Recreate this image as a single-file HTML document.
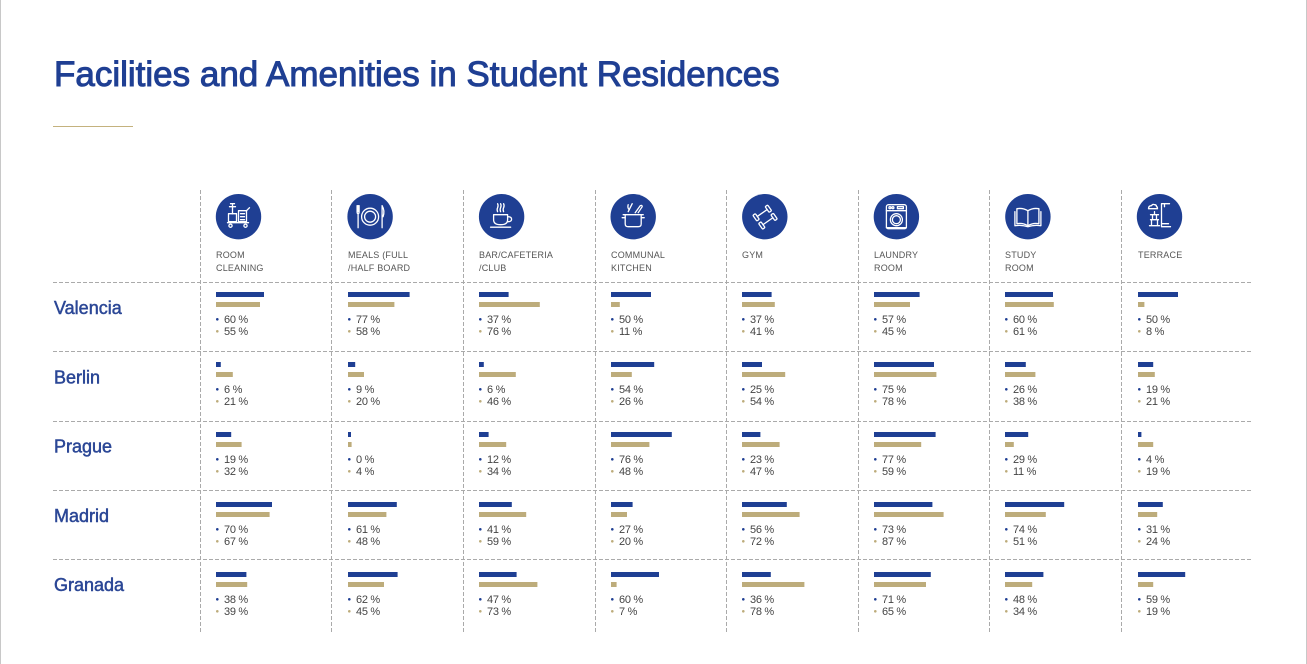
<!DOCTYPE html>
<html>
<head>
<meta charset="utf-8">
<style>
  html,body{margin:0;padding:0;background:#fff;}
  body{width:1307px;height:664px;overflow:hidden;}
  svg{display:block;}
  .t{font-family:"Liberation Sans",Arial,sans-serif;}
  .hd{font-family:"Liberation Sans",Arial,sans-serif;font-size:9px;fill:#555;letter-spacing:0.2px;}
  .v{font-family:"Liberation Sans",Arial,sans-serif;font-size:11px;fill:#444;letter-spacing:-0.3px;}
  .lbl{font-family:"Liberation Sans",Arial,sans-serif;font-size:18px;fill:#2b4796;stroke:#2b4796;stroke-width:0.5px;}
  .ic{fill:none;stroke:#fff;stroke-width:1.3;stroke-linecap:round;stroke-linejoin:round;}
</style>
</head>
<body>
<svg width="1307" height="664" viewBox="0 0 1307 664" xmlns="http://www.w3.org/2000/svg">
  <rect x="0" y="0" width="1307" height="664" fill="#fff"/>
  <line x1="0.5" y1="0" x2="0.5" y2="664" stroke="#c8c8c8" stroke-width="1"/>
  <line x1="1306.5" y1="0" x2="1306.5" y2="664" stroke="#c8c8c8" stroke-width="1"/>

  <!-- Title -->
  <text class="t" x="54" y="86" font-size="35" fill="#1f3f93" stroke="#1f3f93" stroke-width="1">Facilities and Amenities in Student Residences</text>
  <line x1="53" y1="126.5" x2="133" y2="126.5" stroke="#c4b27e" stroke-width="1"/>

  <!-- Grid -->
  <g stroke="#aaa" stroke-width="1" stroke-dasharray="4 2">
    <line x1="200.5" y1="190" x2="200.5" y2="632"/>
    <line x1="331.5" y1="190" x2="331.5" y2="632"/>
    <line x1="463.5" y1="190" x2="463.5" y2="632"/>
    <line x1="595.5" y1="190" x2="595.5" y2="632"/>
    <line x1="726.5" y1="190" x2="726.5" y2="632"/>
    <line x1="858.5" y1="190" x2="858.5" y2="632"/>
    <line x1="989.5" y1="190" x2="989.5" y2="632"/>
    <line x1="1121.5" y1="190" x2="1121.5" y2="632"/>
    <line x1="53" y1="282.5" x2="1252" y2="282.5"/>
    <line x1="53" y1="351.5" x2="1252" y2="351.5"/>
    <line x1="53" y1="421.5" x2="1252" y2="421.5"/>
    <line x1="53" y1="490.5" x2="1252" y2="490.5"/>
    <line x1="53" y1="559.5" x2="1252" y2="559.5"/>
  </g>

  <!-- Icons -->
  <g fill="#1f3f93">
    <circle cx="238.5" cy="216.7" r="22.7"/>
    <circle cx="370.1" cy="216.7" r="22.7"/>
    <circle cx="501.6" cy="216.7" r="22.7"/>
    <circle cx="633.2" cy="216.7" r="22.7"/>
    <circle cx="764.8" cy="216.7" r="22.7"/>
    <circle cx="896.4" cy="216.7" r="22.7"/>
    <circle cx="1027.9" cy="216.7" r="22.7"/>
    <circle cx="1159.5" cy="216.7" r="22.7"/>
  </g>
  <!-- room cleaning -->
  <g class="ic" transform="translate(238.5,216.7)">
    <line x1="-6" y1="-13" x2="-6" y2="-3"/>
    <path d="M-8,-13 L-4,-13 M-9,-10 L-3,-10"/>
    <rect x="-10" y="-3" width="8" height="8"/>
    <rect x="0" y="-6" width="8" height="11"/>
    <path d="M2,-3 H6 M2,0 H6 M2,3 H6"/>
    <path d="M8,-6 L11,-9"/>
    <line x1="-11" y1="6" x2="10" y2="6"/>
    <circle cx="-8" cy="9" r="1.6"/>
    <circle cx="7" cy="9" r="1.6"/>
  </g>
  <!-- meals -->
  <g class="ic" transform="translate(370.1,216.7)">
    <circle cx="0" cy="0" r="8.5"/>
    <circle cx="0" cy="0" r="5.5"/>
    <path d="M-13,-11 V-5 Q-13,-3 -12,-3 Q-11,-3 -11,-5 V-11 M-12,-11 V-5 M-12,-3 V11"/>
    <path d="M12,-11 Q15,-6 13,0 H12 V11 M12,-11 V0"/>
  </g>
  <!-- bar -->
  <g class="ic" transform="translate(501.6,216.7)">
    <path d="M-8,-2 H6 V3 Q6,8 -1,8 Q-8,8 -8,3 Z"/>
    <path d="M6,0 Q10,0 10,2.5 Q10,5 6,5"/>
    <line x1="-11" y1="10.5" x2="9" y2="10.5"/>
    <path d="M-4,-5 Q-5,-7 -4,-9 Q-3,-11 -4,-13 M-1,-5 Q-2,-7 -1,-9 Q0,-11 -1,-13 M2,-5 Q1,-7 2,-9 Q3,-11 2,-13"/>
  </g>
  <!-- kitchen -->
  <g class="ic" transform="translate(633.2,216.7)">
    <path d="M-8,-2 V7 Q-8,10 -5,10 H5 Q8,10 8,7 V-2"/>
    <line x1="-10" y1="-2" x2="10" y2="-2"/>
    <path d="M-8,1 H-11 M8,1 H11"/>
    <path d="M-5,-5 L-1,-13 M2,-4 L7,-11 Q9,-12 9,-10 L5,-4"/>
    <path d="M-4,-7 Q-6,-9 -5,-12"/>
  </g>
  <!-- gym -->
  <g class="ic" transform="translate(764.8,216.7) rotate(-35)">
    <rect x="-9" y="-8" width="3" height="7" rx="1"/>
    <rect x="6" y="-8" width="3" height="7" rx="1"/>
    <line x1="-6" y1="-4.5" x2="6" y2="-4.5"/>
    <rect x="-9" y="2" width="3" height="7" rx="1"/>
    <rect x="6" y="2" width="3" height="7" rx="1"/>
    <line x1="-6" y1="5.5" x2="6" y2="5.5"/>
  </g>
  <!-- laundry -->
  <g class="ic" transform="translate(896.4,216.7)">
    <rect x="-10" y="-12" width="20" height="24" rx="2"/>
    <line x1="-10" y1="-6" x2="10" y2="-6"/>
    <circle cx="-6.5" cy="-9" r="1"/>
    <circle cx="-3.5" cy="-9" r="1"/>
    <rect x="1" y="-10" width="6" height="2"/>
    <circle cx="0" cy="3" r="6"/>
    <circle cx="0" cy="3" r="4"/>
    <line x1="-10" y1="11" x2="10" y2="11"/>
  </g>
  <!-- study -->
  <g class="ic" transform="translate(1027.9,216.7)">
    <path d="M0,-6 Q-5,-9 -11,-8 V7 Q-5,6 0,9 Q5,6 11,7 V-8 Q5,-9 0,-6 Z"/>
    <line x1="0" y1="-6" x2="0" y2="9"/>
    <path d="M-13,-5 V9 Q-6,8 0,10 Q6,8 13,9 V-5"/>
  </g>
  <!-- terrace -->
  <g class="ic" transform="translate(1159.5,216.7)">
    <path d="M2,-13 H10 M2,-13 V10 M2,10 H11 M5,-13 V-10 M2,7 H9"/>
    <path d="M-11,-8 Q-11,-11 -8,-11 Q-7,-13 -5,-12 Q-3,-12 -3,-10 Q-2,-10 -2,-8 Z"/>
    <path d="M-9,-2 H-1 M-5,-5 V-2 M-7,-2 V3 H-3 V-2 M-9,3 H-1 M-8,3 V9 M-2,3 V9 M-10,9 H0"/>
  </g>

  <!-- Header labels -->
  <text class="hd" x="216" y="258">ROOM</text><text class="hd" x="216" y="271">CLEANING</text>
  <text class="hd" x="348" y="258">MEALS (FULL</text><text class="hd" x="348" y="271">/HALF BOARD</text>
  <text class="hd" x="479" y="258">BAR/CAFETERIA</text><text class="hd" x="479" y="271">/CLUB</text>
  <text class="hd" x="611" y="258">COMMUNAL</text><text class="hd" x="611" y="271">KITCHEN</text>
  <text class="hd" x="742" y="258">GYM</text>
  <text class="hd" x="874" y="258">LAUNDRY</text><text class="hd" x="874" y="271">ROOM</text>
  <text class="hd" x="1005" y="258">STUDY</text><text class="hd" x="1005" y="271">ROOM</text>
  <text class="hd" x="1138" y="258">TERRACE</text>

  <!-- Row labels -->
  <text class="lbl" x="54" y="314">Valencia</text>
  <text class="lbl" x="54" y="383.3">Berlin</text>
  <text class="lbl" x="54" y="452.5">Prague</text>
  <text class="lbl" x="54" y="521.8">Madrid</text>
  <text class="lbl" x="54" y="591">Granada</text>

  <!-- Valencia row: y=292 -->
  <g transform="translate(216,292)"><rect width="48" height="5" fill="#1f3f93"/><rect y="10" width="44" height="5" fill="#bdac7b"/><circle cx="1.3" cy="27.3" r="1.3" fill="#1f3f93"/><text class="v" x="8" y="31">60 %</text><circle cx="1.3" cy="39.3" r="1.3" fill="#bdac7b"/><text class="v" x="8" y="43">55 %</text></g>
  <g transform="translate(348,292)"><rect width="61.6" height="5" fill="#1f3f93"/><rect y="10" width="46.4" height="5" fill="#bdac7b"/><circle cx="1.3" cy="27.3" r="1.3" fill="#1f3f93"/><text class="v" x="8" y="31">77 %</text><circle cx="1.3" cy="39.3" r="1.3" fill="#bdac7b"/><text class="v" x="8" y="43">58 %</text></g>
  <g transform="translate(479,292)"><rect width="29.6" height="5" fill="#1f3f93"/><rect y="10" width="60.8" height="5" fill="#bdac7b"/><circle cx="1.3" cy="27.3" r="1.3" fill="#1f3f93"/><text class="v" x="8" y="31">37 %</text><circle cx="1.3" cy="39.3" r="1.3" fill="#bdac7b"/><text class="v" x="8" y="43">76 %</text></g>
  <g transform="translate(611,292)"><rect width="40" height="5" fill="#1f3f93"/><rect y="10" width="8.8" height="5" fill="#bdac7b"/><circle cx="1.3" cy="27.3" r="1.3" fill="#1f3f93"/><text class="v" x="8" y="31">50 %</text><circle cx="1.3" cy="39.3" r="1.3" fill="#bdac7b"/><text class="v" x="8" y="43">11 %</text></g>
  <g transform="translate(742,292)"><rect width="29.6" height="5" fill="#1f3f93"/><rect y="10" width="32.8" height="5" fill="#bdac7b"/><circle cx="1.3" cy="27.3" r="1.3" fill="#1f3f93"/><text class="v" x="8" y="31">37 %</text><circle cx="1.3" cy="39.3" r="1.3" fill="#bdac7b"/><text class="v" x="8" y="43">41 %</text></g>
  <g transform="translate(874,292)"><rect width="45.6" height="5" fill="#1f3f93"/><rect y="10" width="36" height="5" fill="#bdac7b"/><circle cx="1.3" cy="27.3" r="1.3" fill="#1f3f93"/><text class="v" x="8" y="31">57 %</text><circle cx="1.3" cy="39.3" r="1.3" fill="#bdac7b"/><text class="v" x="8" y="43">45 %</text></g>
  <g transform="translate(1005,292)"><rect width="48" height="5" fill="#1f3f93"/><rect y="10" width="48.8" height="5" fill="#bdac7b"/><circle cx="1.3" cy="27.3" r="1.3" fill="#1f3f93"/><text class="v" x="8" y="31">60 %</text><circle cx="1.3" cy="39.3" r="1.3" fill="#bdac7b"/><text class="v" x="8" y="43">61 %</text></g>
  <g transform="translate(1138,292)"><rect width="40" height="5" fill="#1f3f93"/><rect y="10" width="6.4" height="5" fill="#bdac7b"/><circle cx="1.3" cy="27.3" r="1.3" fill="#1f3f93"/><text class="v" x="8" y="31">50 %</text><circle cx="1.3" cy="39.3" r="1.3" fill="#bdac7b"/><text class="v" x="8" y="43">8 %</text></g>

  <!-- Berlin row: y=362 -->
  <g transform="translate(216,362)"><rect width="4.8" height="5" fill="#1f3f93"/><rect y="10" width="16.8" height="5" fill="#bdac7b"/><circle cx="1.3" cy="27.3" r="1.3" fill="#1f3f93"/><text class="v" x="8" y="31">6 %</text><circle cx="1.3" cy="39.3" r="1.3" fill="#bdac7b"/><text class="v" x="8" y="43">21 %</text></g>
  <g transform="translate(348,362)"><rect width="7.2" height="5" fill="#1f3f93"/><rect y="10" width="16" height="5" fill="#bdac7b"/><circle cx="1.3" cy="27.3" r="1.3" fill="#1f3f93"/><text class="v" x="8" y="31">9 %</text><circle cx="1.3" cy="39.3" r="1.3" fill="#bdac7b"/><text class="v" x="8" y="43">20 %</text></g>
  <g transform="translate(479,362)"><rect width="4.8" height="5" fill="#1f3f93"/><rect y="10" width="36.8" height="5" fill="#bdac7b"/><circle cx="1.3" cy="27.3" r="1.3" fill="#1f3f93"/><text class="v" x="8" y="31">6 %</text><circle cx="1.3" cy="39.3" r="1.3" fill="#bdac7b"/><text class="v" x="8" y="43">46 %</text></g>
  <g transform="translate(611,362)"><rect width="43.2" height="5" fill="#1f3f93"/><rect y="10" width="20.8" height="5" fill="#bdac7b"/><circle cx="1.3" cy="27.3" r="1.3" fill="#1f3f93"/><text class="v" x="8" y="31">54 %</text><circle cx="1.3" cy="39.3" r="1.3" fill="#bdac7b"/><text class="v" x="8" y="43">26 %</text></g>
  <g transform="translate(742,362)"><rect width="20" height="5" fill="#1f3f93"/><rect y="10" width="43.2" height="5" fill="#bdac7b"/><circle cx="1.3" cy="27.3" r="1.3" fill="#1f3f93"/><text class="v" x="8" y="31">25 %</text><circle cx="1.3" cy="39.3" r="1.3" fill="#bdac7b"/><text class="v" x="8" y="43">54 %</text></g>
  <g transform="translate(874,362)"><rect width="60" height="5" fill="#1f3f93"/><rect y="10" width="62.4" height="5" fill="#bdac7b"/><circle cx="1.3" cy="27.3" r="1.3" fill="#1f3f93"/><text class="v" x="8" y="31">75 %</text><circle cx="1.3" cy="39.3" r="1.3" fill="#bdac7b"/><text class="v" x="8" y="43">78 %</text></g>
  <g transform="translate(1005,362)"><rect width="20.8" height="5" fill="#1f3f93"/><rect y="10" width="30.4" height="5" fill="#bdac7b"/><circle cx="1.3" cy="27.3" r="1.3" fill="#1f3f93"/><text class="v" x="8" y="31">26 %</text><circle cx="1.3" cy="39.3" r="1.3" fill="#bdac7b"/><text class="v" x="8" y="43">38 %</text></g>
  <g transform="translate(1138,362)"><rect width="15.2" height="5" fill="#1f3f93"/><rect y="10" width="16.8" height="5" fill="#bdac7b"/><circle cx="1.3" cy="27.3" r="1.3" fill="#1f3f93"/><text class="v" x="8" y="31">19 %</text><circle cx="1.3" cy="39.3" r="1.3" fill="#bdac7b"/><text class="v" x="8" y="43">21 %</text></g>

  <!-- Prague row: y=432 -->
  <g transform="translate(216,432)"><rect width="15.2" height="5" fill="#1f3f93"/><rect y="10" width="25.6" height="5" fill="#bdac7b"/><circle cx="1.3" cy="27.3" r="1.3" fill="#1f3f93"/><text class="v" x="8" y="31">19 %</text><circle cx="1.3" cy="39.3" r="1.3" fill="#bdac7b"/><text class="v" x="8" y="43">32 %</text></g>
  <g transform="translate(348,432)"><rect width="3" height="5" fill="#1f3f93"/><rect y="10" width="3.6" height="5" fill="#bdac7b"/><circle cx="1.3" cy="27.3" r="1.3" fill="#1f3f93"/><text class="v" x="8" y="31">0 %</text><circle cx="1.3" cy="39.3" r="1.3" fill="#bdac7b"/><text class="v" x="8" y="43">4 %</text></g>
  <g transform="translate(479,432)"><rect width="9.6" height="5" fill="#1f3f93"/><rect y="10" width="27.2" height="5" fill="#bdac7b"/><circle cx="1.3" cy="27.3" r="1.3" fill="#1f3f93"/><text class="v" x="8" y="31">12 %</text><circle cx="1.3" cy="39.3" r="1.3" fill="#bdac7b"/><text class="v" x="8" y="43">34 %</text></g>
  <g transform="translate(611,432)"><rect width="60.8" height="5" fill="#1f3f93"/><rect y="10" width="38.4" height="5" fill="#bdac7b"/><circle cx="1.3" cy="27.3" r="1.3" fill="#1f3f93"/><text class="v" x="8" y="31">76 %</text><circle cx="1.3" cy="39.3" r="1.3" fill="#bdac7b"/><text class="v" x="8" y="43">48 %</text></g>
  <g transform="translate(742,432)"><rect width="18.4" height="5" fill="#1f3f93"/><rect y="10" width="37.6" height="5" fill="#bdac7b"/><circle cx="1.3" cy="27.3" r="1.3" fill="#1f3f93"/><text class="v" x="8" y="31">23 %</text><circle cx="1.3" cy="39.3" r="1.3" fill="#bdac7b"/><text class="v" x="8" y="43">47 %</text></g>
  <g transform="translate(874,432)"><rect width="61.6" height="5" fill="#1f3f93"/><rect y="10" width="47.2" height="5" fill="#bdac7b"/><circle cx="1.3" cy="27.3" r="1.3" fill="#1f3f93"/><text class="v" x="8" y="31">77 %</text><circle cx="1.3" cy="39.3" r="1.3" fill="#bdac7b"/><text class="v" x="8" y="43">59 %</text></g>
  <g transform="translate(1005,432)"><rect width="23.2" height="5" fill="#1f3f93"/><rect y="10" width="8.8" height="5" fill="#bdac7b"/><circle cx="1.3" cy="27.3" r="1.3" fill="#1f3f93"/><text class="v" x="8" y="31">29 %</text><circle cx="1.3" cy="39.3" r="1.3" fill="#bdac7b"/><text class="v" x="8" y="43">11 %</text></g>
  <g transform="translate(1138,432)"><rect width="3.4" height="5" fill="#1f3f93"/><rect y="10" width="15.2" height="5" fill="#bdac7b"/><circle cx="1.3" cy="27.3" r="1.3" fill="#1f3f93"/><text class="v" x="8" y="31">4 %</text><circle cx="1.3" cy="39.3" r="1.3" fill="#bdac7b"/><text class="v" x="8" y="43">19 %</text></g>

  <!-- Madrid row: y=502 -->
  <g transform="translate(216,502)"><rect width="56" height="5" fill="#1f3f93"/><rect y="10" width="53.6" height="5" fill="#bdac7b"/><circle cx="1.3" cy="27.3" r="1.3" fill="#1f3f93"/><text class="v" x="8" y="31">70 %</text><circle cx="1.3" cy="39.3" r="1.3" fill="#bdac7b"/><text class="v" x="8" y="43">67 %</text></g>
  <g transform="translate(348,502)"><rect width="48.8" height="5" fill="#1f3f93"/><rect y="10" width="38.4" height="5" fill="#bdac7b"/><circle cx="1.3" cy="27.3" r="1.3" fill="#1f3f93"/><text class="v" x="8" y="31">61 %</text><circle cx="1.3" cy="39.3" r="1.3" fill="#bdac7b"/><text class="v" x="8" y="43">48 %</text></g>
  <g transform="translate(479,502)"><rect width="32.8" height="5" fill="#1f3f93"/><rect y="10" width="47.2" height="5" fill="#bdac7b"/><circle cx="1.3" cy="27.3" r="1.3" fill="#1f3f93"/><text class="v" x="8" y="31">41 %</text><circle cx="1.3" cy="39.3" r="1.3" fill="#bdac7b"/><text class="v" x="8" y="43">59 %</text></g>
  <g transform="translate(611,502)"><rect width="21.6" height="5" fill="#1f3f93"/><rect y="10" width="16" height="5" fill="#bdac7b"/><circle cx="1.3" cy="27.3" r="1.3" fill="#1f3f93"/><text class="v" x="8" y="31">27 %</text><circle cx="1.3" cy="39.3" r="1.3" fill="#bdac7b"/><text class="v" x="8" y="43">20 %</text></g>
  <g transform="translate(742,502)"><rect width="44.8" height="5" fill="#1f3f93"/><rect y="10" width="57.6" height="5" fill="#bdac7b"/><circle cx="1.3" cy="27.3" r="1.3" fill="#1f3f93"/><text class="v" x="8" y="31">56 %</text><circle cx="1.3" cy="39.3" r="1.3" fill="#bdac7b"/><text class="v" x="8" y="43">72 %</text></g>
  <g transform="translate(874,502)"><rect width="58.4" height="5" fill="#1f3f93"/><rect y="10" width="69.6" height="5" fill="#bdac7b"/><circle cx="1.3" cy="27.3" r="1.3" fill="#1f3f93"/><text class="v" x="8" y="31">73 %</text><circle cx="1.3" cy="39.3" r="1.3" fill="#bdac7b"/><text class="v" x="8" y="43">87 %</text></g>
  <g transform="translate(1005,502)"><rect width="59.2" height="5" fill="#1f3f93"/><rect y="10" width="40.8" height="5" fill="#bdac7b"/><circle cx="1.3" cy="27.3" r="1.3" fill="#1f3f93"/><text class="v" x="8" y="31">74 %</text><circle cx="1.3" cy="39.3" r="1.3" fill="#bdac7b"/><text class="v" x="8" y="43">51 %</text></g>
  <g transform="translate(1138,502)"><rect width="24.8" height="5" fill="#1f3f93"/><rect y="10" width="19.2" height="5" fill="#bdac7b"/><circle cx="1.3" cy="27.3" r="1.3" fill="#1f3f93"/><text class="v" x="8" y="31">31 %</text><circle cx="1.3" cy="39.3" r="1.3" fill="#bdac7b"/><text class="v" x="8" y="43">24 %</text></g>

  <!-- Granada row: y=572 -->
  <g transform="translate(216,572)"><rect width="30.4" height="5" fill="#1f3f93"/><rect y="10" width="31.2" height="5" fill="#bdac7b"/><circle cx="1.3" cy="27.3" r="1.3" fill="#1f3f93"/><text class="v" x="8" y="31">38 %</text><circle cx="1.3" cy="39.3" r="1.3" fill="#bdac7b"/><text class="v" x="8" y="43">39 %</text></g>
  <g transform="translate(348,572)"><rect width="49.6" height="5" fill="#1f3f93"/><rect y="10" width="36" height="5" fill="#bdac7b"/><circle cx="1.3" cy="27.3" r="1.3" fill="#1f3f93"/><text class="v" x="8" y="31">62 %</text><circle cx="1.3" cy="39.3" r="1.3" fill="#bdac7b"/><text class="v" x="8" y="43">45 %</text></g>
  <g transform="translate(479,572)"><rect width="37.6" height="5" fill="#1f3f93"/><rect y="10" width="58.4" height="5" fill="#bdac7b"/><circle cx="1.3" cy="27.3" r="1.3" fill="#1f3f93"/><text class="v" x="8" y="31">47 %</text><circle cx="1.3" cy="39.3" r="1.3" fill="#bdac7b"/><text class="v" x="8" y="43">73 %</text></g>
  <g transform="translate(611,572)"><rect width="48" height="5" fill="#1f3f93"/><rect y="10" width="5.6" height="5" fill="#bdac7b"/><circle cx="1.3" cy="27.3" r="1.3" fill="#1f3f93"/><text class="v" x="8" y="31">60 %</text><circle cx="1.3" cy="39.3" r="1.3" fill="#bdac7b"/><text class="v" x="8" y="43">7 %</text></g>
  <g transform="translate(742,572)"><rect width="28.8" height="5" fill="#1f3f93"/><rect y="10" width="62.4" height="5" fill="#bdac7b"/><circle cx="1.3" cy="27.3" r="1.3" fill="#1f3f93"/><text class="v" x="8" y="31">36 %</text><circle cx="1.3" cy="39.3" r="1.3" fill="#bdac7b"/><text class="v" x="8" y="43">78 %</text></g>
  <g transform="translate(874,572)"><rect width="56.8" height="5" fill="#1f3f93"/><rect y="10" width="52" height="5" fill="#bdac7b"/><circle cx="1.3" cy="27.3" r="1.3" fill="#1f3f93"/><text class="v" x="8" y="31">71 %</text><circle cx="1.3" cy="39.3" r="1.3" fill="#bdac7b"/><text class="v" x="8" y="43">65 %</text></g>
  <g transform="translate(1005,572)"><rect width="38.4" height="5" fill="#1f3f93"/><rect y="10" width="27.2" height="5" fill="#bdac7b"/><circle cx="1.3" cy="27.3" r="1.3" fill="#1f3f93"/><text class="v" x="8" y="31">48 %</text><circle cx="1.3" cy="39.3" r="1.3" fill="#bdac7b"/><text class="v" x="8" y="43">34 %</text></g>
  <g transform="translate(1138,572)"><rect width="47.2" height="5" fill="#1f3f93"/><rect y="10" width="15.2" height="5" fill="#bdac7b"/><circle cx="1.3" cy="27.3" r="1.3" fill="#1f3f93"/><text class="v" x="8" y="31">59 %</text><circle cx="1.3" cy="39.3" r="1.3" fill="#bdac7b"/><text class="v" x="8" y="43">19 %</text></g>
</svg>
</body>
</html>
